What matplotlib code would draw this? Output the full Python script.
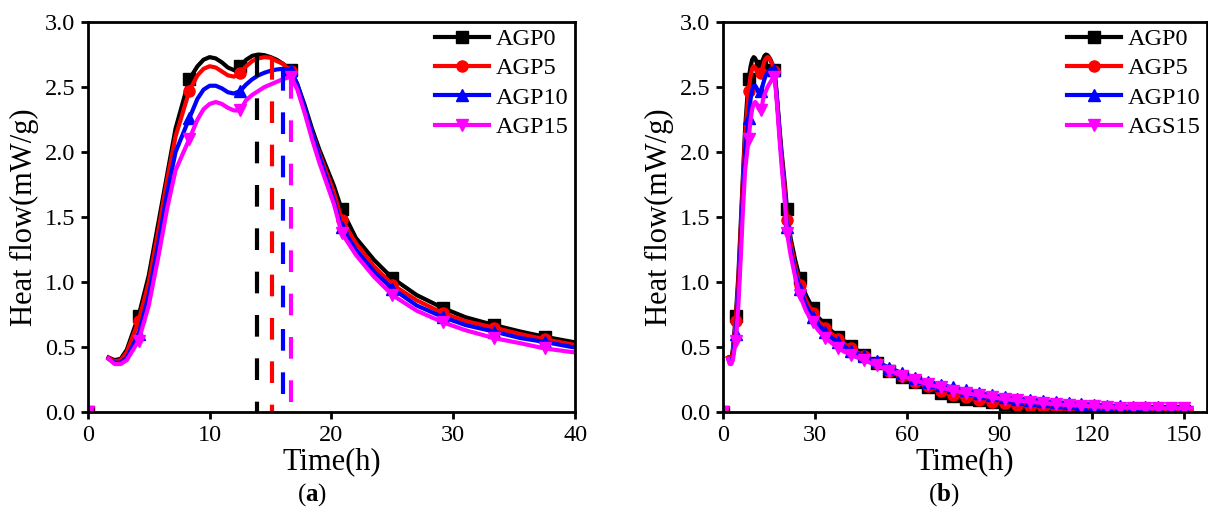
import numpy as np
import matplotlib
matplotlib.use('Agg')
import matplotlib.pyplot as plt

plt.rcParams['font.family'] = ['Liberation Serif', 'DejaVu Serif']
plt.rcParams['mathtext.fontset'] = 'custom'
plt.rcParams['mathtext.rm'] = 'Liberation Serif'
plt.rcParams['mathtext.bf'] = 'Liberation Serif:bold'

# time (h) and heat flow (mW/g)
times = [0, 1.7, 2.2, 2.7, 3.2, 4.17, 5.0, 5.8, 6.5, 7.2,
         8.33, 9.0, 9.5, 10.0, 10.5, 11.0, 11.5, 12.0, 12.5, 13.0,
         13.5, 14.0, 14.5, 15.0, 15.5, 16.0, 16.67, 17.2, 17.8, 18.4,
         19.0, 19.6, 20.2, 20.83, 22.0, 23.5, 25.0, 27.0, 29.17, 31.0,
         33.33, 35.5, 37.5, 39.5, 41.67, 45.83, 50.0, 54.17, 58.33, 62.5,
         66.67, 70.83, 75.0, 79.17, 83.33, 87.5, 91.67, 95.83, 100.0, 104.17,
         108.33, 112.5, 116.67, 120.83, 125.0, 129.17, 133.33, 137.5, 141.67, 145.83,
         150.0, 152.5]

agp0 = [0.0, 0.42, 0.40, 0.41, 0.48, 0.74, 1.05, 1.46, 1.82, 2.18,
        2.56, 2.66, 2.71, 2.73, 2.72, 2.69, 2.65, 2.63, 2.66, 2.71,
        2.74, 2.75, 2.745, 2.73, 2.71, 2.68, 2.63, 2.52, 2.36, 2.18,
        2.02, 1.88, 1.74, 1.56, 1.34, 1.17, 1.03, 0.90, 0.80, 0.73,
        0.67, 0.62, 0.58, 0.545, 0.51, 0.44, 0.38, 0.32, 0.27, 0.23,
        0.19, 0.15, 0.125, 0.105, 0.09, 0.078, 0.065, 0.055, 0.045, 0.035,
        0.03, 0.02, 0.015, 0.012, 0.01, 0.01, 0.01, 0.01, 0.01, 0.01,
        0.01, 0.01]

agp5 = [0.0, 0.42, 0.39, 0.40, 0.46, 0.70, 1.00, 1.40, 1.78, 2.12,
        2.47, 2.59, 2.64, 2.66, 2.65, 2.62, 2.59, 2.58, 2.61, 2.66,
        2.70, 2.72, 2.73, 2.725, 2.70, 2.68, 2.62, 2.50, 2.33, 2.15,
        1.99, 1.84, 1.69, 1.48, 1.30, 1.12, 0.98, 0.86, 0.76, 0.70,
        0.65, 0.60, 0.56, 0.525, 0.49, 0.43, 0.38, 0.32, 0.275, 0.235,
        0.20, 0.165, 0.135, 0.115, 0.095, 0.08, 0.068, 0.057, 0.047, 0.038,
        0.03, 0.024, 0.018, 0.014, 0.012, 0.01, 0.01, 0.01, 0.01, 0.01,
        0.01, 0.01]

agp10 = [0.0, 0.41, 0.38, 0.38, 0.42, 0.60, 0.90, 1.30, 1.68, 2.00,
         2.26, 2.41, 2.48, 2.51, 2.51, 2.49, 2.46, 2.45, 2.47, 2.52,
         2.56, 2.59, 2.61, 2.625, 2.635, 2.64, 2.63, 2.52, 2.34, 2.15,
         1.97, 1.80, 1.63, 1.42, 1.25, 1.08, 0.95, 0.82, 0.73, 0.67,
         0.62, 0.57, 0.54, 0.505, 0.47, 0.43, 0.39, 0.34, 0.30, 0.265,
         0.235, 0.21, 0.19, 0.17, 0.15, 0.13, 0.115, 0.105, 0.097, 0.087,
         0.077, 0.07, 0.065, 0.057, 0.05, 0.045, 0.042, 0.038, 0.036, 0.035,
         0.033, 0.033]

agp15 = [0.0, 0.41, 0.37, 0.37, 0.40, 0.55, 0.82, 1.20, 1.56, 1.86,
         2.10, 2.25, 2.33, 2.37, 2.385, 2.37, 2.34, 2.32, 2.32, 2.40,
         2.44, 2.47, 2.50, 2.52, 2.54, 2.56, 2.58, 2.48, 2.30, 2.10,
         1.92, 1.76, 1.60, 1.38, 1.21, 1.04, 0.90, 0.78, 0.69, 0.63,
         0.57, 0.53, 0.49, 0.465, 0.44, 0.40, 0.36, 0.32, 0.28, 0.245,
         0.215, 0.19, 0.165, 0.145, 0.13, 0.115, 0.10, 0.09, 0.08, 0.07,
         0.06, 0.055, 0.05, 0.045, 0.04, 0.035, 0.035, 0.03, 0.03, 0.03,
         0.03, 0.03]

# times where the symbols are drawn
marker_times = [0, 4.17, 8.33, 12.5, 16.67, 20.83, 25.0, 29.17, 33.33, 37.5,
                41.67, 45.83, 50.0, 54.17, 58.33, 62.5, 66.67, 70.83, 75.0, 79.17,
                83.33, 87.5, 91.67, 95.83, 100.0, 104.17, 108.33, 112.5, 116.67,
                120.83, 125.0, 129.17, 133.33, 137.5, 141.67, 145.83, 150.0]

# exothermic peak positions (dashed lines, panel a)
peak_times = [13.9, 15.1, 16.05, 16.7]
peak_values = [2.75, 2.72, 2.64, 2.58]

series = [agp0, agp5, agp10, agp15]
colors = ['#000000', '#ff0000', '#0000ff', '#ff00ff']
markers = ['s', 'o', '^', 'v']
labels_a = ['AGP0', 'AGP5', 'AGP10', 'AGP15']
labels_b = ['AGP0', 'AGP5', 'AGP10', 'AGS15']

t = np.array(times)
mark_mask = np.isin(np.round(t, 2), marker_times)

fig = plt.figure(figsize=(12.08, 5.12), dpi=100)
ax_a = fig.add_axes([0.0727, 0.195, 0.4034, 0.762])
ax_b = fig.add_axes([0.5985, 0.195, 0.4005, 0.762])


def draw(ax, labels, xmax, xticks):
    for y, c, m, lab in zip(series, colors, markers, labels):
        y = np.array(y)
        ax.plot(t[1:], y[1:], color=c, lw=3, marker=m, ms=8,
                markevery=list(mark_mask[1:]), label=lab)
        ax.plot(t[:1], y[:1], color=c, lw=0, marker=m, ms=8)
    ax.set_xlim(0, xmax)
    ax.set_ylim(0, 3.0)
    ax.set_xticks(xticks)
    ax.set_yticks([0, 0.5, 1.0, 1.5, 2.0, 2.5, 3.0])
    ax.set_yticklabels(['0.0', '0.5', '1.0', '1.5', '2.0', '2.5', '3.0'])
    ax.set_xlabel('Time(h)', fontsize=22, labelpad=1)
    ax.set_ylabel('Heat flow(mW/g)', fontsize=22, labelpad=4)
    ax.tick_params(direction='out', length=5, width=2, labelsize=17.5, pad=4)
    for s in ax.spines.values():
        s.set_linewidth(2)
    ax.legend(loc='upper right', frameon=False, fontsize=17.5, handlelength=2.2,
              handletextpad=0.3, labelspacing=0.3, borderaxespad=0.0,
              borderpad=0.25)


draw(ax_a, labels_a, 40, [0, 10, 20, 30, 40])
draw(ax_b, labels_b, 157.5, [0, 30, 60, 90, 120, 150])

for pt, pv, c in zip(peak_times, peak_values, colors):
    ax_a.plot([pt, pt], [pv, 0], color=c, lw=3, linestyle=(0, (5.2, 5.2)))

fig.text(0.258, 0.035, r'($\mathbf{a}$)', fontsize=18, ha='center', va='center')
fig.text(0.781, 0.035, r'($\mathbf{b}$)', fontsize=18, ha='center', va='center')

plt.savefig('out.png', dpi=100)
